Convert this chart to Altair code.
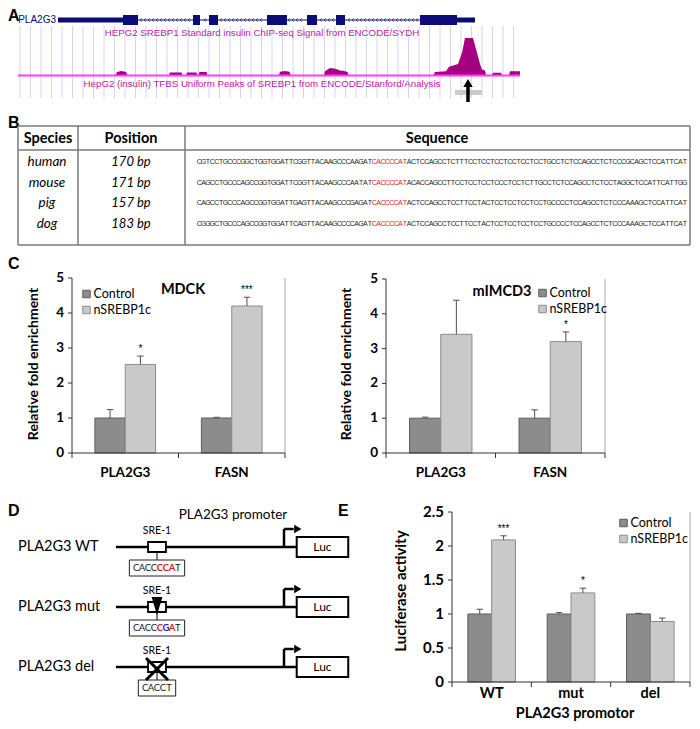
import altair as alt
import numpy as np
import pandas as pd

OFF = 8
W, H = 684, 713


def V(p):
    return p - OFF


SANS = "Liberation Sans"
NARROW = "Liberation Sans Narrow, Liberation Sans"
CAL = "Lato"
NAVY = "#0c0c78"
MAG_TEXT = "#c41aa6"
MAG_AREA = "#a5007f"
MAG_LINE = "#ff3cff"
GRID = "#d4d4f4"
CTRL = "#8c8c8c"
CTRL_EDGE = "#5c5c5c"
NSREBP = "#c9c9c9"
NSREBP_EDGE = "#8c8c8c"
RED = "#e3201b"
BLUE = "#2323d6"

# ---------------- data ----------------
# Panel A: UCSC view, positions in kb across the browser window
gene_label = "PLA2G3"
gene_span = [0.76, 9.10]
utr_start = [0.76, 8.74]
utr_end = [2.06, 9.10]
exon_start = [2.06, 3.46, 3.78, 4.94, 5.74, 6.32, 8.00]
exon_end = [2.36, 3.60, 3.96, 5.34, 5.94, 6.50, 8.74]
signal_kb = [0.00, 1.91, 1.94, 2.03, 2.12, 2.15, 2.98, 3.00, 3.23, 3.25, 3.32, 3.34,
             3.53, 3.55, 3.57, 3.59, 3.73, 3.75, 5.18, 5.20, 5.30, 5.39, 5.41, 6.08,
             6.10, 6.20, 6.31, 6.40, 6.48, 6.55, 6.57, 8.27, 8.30, 8.52, 8.58, 8.76,
             8.84, 8.90, 9.06, 9.12, 9.20, 9.24, 9.30, 9.32, 9.44, 9.46, 9.62, 9.64,
             9.78, 9.80, 10.0]
signal_val = [0, 0, 8, 11, 8, 0, 0, 7, 7, 0, 0, 7,
              7, 0, 0, 8, 8, 0, 0, 9, 11, 9, 0, 0,
              10, 19, 17, 12, 11, 8, 0, 0, 8, 10, 22, 30,
              60, 100, 100, 70, 30, 15, 12, 0, 0, 6, 6, 0,
              0, 10, 10]
peak_region = [8.70, 9.24]
peak_center = 8.96
track1_title = "HEPG2 SREBP1 Standard insulin ChIP-seq Signal from ENCODE/SYDH"
track2_title = "HepG2 (insulin) TFBS Uniform Peaks of SREBP1 from ENCODE/Stanford/Analysis"

# Panel B
species = ["human", "mouse", "pig", "dog"]
positions = ["170 bp", "171 bp", "157 bp", "183 bp"]
seq_left = ["CGTCCTGCCCGGCTGGTGGATTCGGTTACAAGCCCAAGAT",
            "CAGCCTGCCCAGCCGGTGGATTCGGTTACAAGCCCAATAT",
            "CAGCCTGCCCAGCCGGTGGATTGAGTTACAAGCCCGAGAT",
            "CGGGCTGCCCAGCCGGTGGATTCAGTTACAAGCCCCAGAT"]
motif = "CACCCCAT"
seq_right = ["ACTCCAGCCTCTTTCCTCCTCCTCCTCCTCCTGCCTCTCCAGCCTCTCCCGCAGCTCCATTCAT",
             "ACACCAGCCTTCCTCCTCCTCCCTCCTCTTGCCTCTCCAGCCTCTCCTAGGCTCCATTCATTGG",
             "ACTCCAGCCTCCTTCCTACTCCTCCTCCTCCTGCCCCTCCAGCCTCTCCCAAAGCTCCATTCAT",
             "ACTCCAGCCTCCTTCCTACTCCTCCTCCTCCTGCCCCTCCAGCCTCTCCCAAAGCTCCATTCAT"]

# Panel C
genes = ["PLA2G3", "FASN"]
series = ["Control", "nSREBP1c"]
mdck_mean = [1.0, 2.53, 1.0, 4.20]
mdck_err = [0.24, 0.24, 0.02, 0.25]
mdck_sig = ["", "*", "", "***"]
imcd_mean = [1.0, 3.41, 1.0, 3.20]
imcd_err = [0.03, 0.98, 0.24, 0.28]
imcd_sig = ["", "", "", "*"]

# Panel D (positions in bp relative to the transcription start)
constructs = ["PLA2G3 WT", "PLA2G3 mut", "PLA2G3 del"]
promoter_start_bp = -225
sre_bp = -170
luc_bp = [17, 86]
site_seq = ["CACCCCAT", "CACCCGAT", "CACCT"]
site_class = ["nnnncccn", "nnnncmcn", "nnnnn"]

# Panel E
promoters = ["WT", "mut", "del"]
luc_mean = [1.0, 2.09, 1.0, 1.31, 1.0, 0.89]
luc_err = [0.07, 0.06, 0.02, 0.07, 0.01, 0.05]
luc_sig = ["", "***", "", "*", "", ""]

# ---------------- helpers ----------------
DUMMY = pd.DataFrame({"d": [0]})
layers = []


def txt(text, x, y, size=12, weight="normal", font=CAL, color="black", align="center",
        baseline="middle", angle=None, style="normal"):
    kw = dict(fontSize=size, fontWeight=weight, font=font, color=color, align=align,
              baseline=baseline, fontStyle=style)
    if angle is not None:
        kw["angle"] = angle
    return alt.Chart(DUMMY).mark_text(**kw).encode(
        x=alt.value(V(x)), y=alt.value(V(y)), text=alt.value(text))


def seg(x1, y1, x2, y2, color="black", width=1.0):
    return alt.Chart(DUMMY).mark_rule(color=color, strokeWidth=width).encode(
        x=alt.value(V(x1)), y=alt.value(V(y1)), x2=alt.value(V(x2)), y2=alt.value(V(y2)))


# ---------------- Panel A ----------------
xa = alt.Scale(domain=[0, 10], range=[V(20), V(520)], nice=False, zero=False)
ya = alt.Scale(domain=[0, 100], range=[V(75), V(38)], nice=False)
layers.append(txt("A", 8, 8, size=16, weight="bold", font=NARROW, align="left", baseline="top"))
grid_df = pd.DataFrame({"kb": np.arange(0.0, 10.01, 0.21)})
layers.append(alt.Chart(grid_df).mark_rule(color=GRID, strokeWidth=1).encode(
    x=alt.X("kb:Q", scale=xa, axis=None), y=alt.value(V(26)), y2=alt.value(V(98))))
chev = [p for p in np.arange(2.42, 8.0, 0.08)
        if not any(s - 0.04 <= p <= e + 0.04 for s, e in zip(exon_start, exon_end))]
layers.append(alt.Chart(pd.DataFrame({"kb": chev})).mark_point(
    shape="M0.5,-1L-0.5,0L0.5,1", size=12, color=NAVY, strokeWidth=0.7, filled=False, opacity=1).encode(
    x=alt.X("kb:Q", scale=xa, axis=None), y=alt.value(V(20))))
layers.append(alt.Chart(pd.DataFrame({"s": [gene_span[0]], "e": [gene_span[1]]})).mark_rule(
    color=NAVY, strokeWidth=1).encode(
    x=alt.X("s:Q", scale=xa, axis=None), x2="e:Q", y=alt.value(V(20))))
layers.append(alt.Chart(pd.DataFrame({"s": utr_start, "e": utr_end})).mark_rect(color=NAVY).encode(
    x=alt.X("s:Q", scale=xa, axis=None), x2="e:Q", y=alt.value(V(17.5)), y2=alt.value(V(22.5))))
layers.append(alt.Chart(pd.DataFrame({"s": exon_start, "e": exon_end})).mark_rect(color=NAVY).encode(
    x=alt.X("s:Q", scale=xa, axis=None), x2="e:Q", y=alt.value(V(15)), y2=alt.value(V(25))))
layers.append(txt(gene_label, 56, 20, size=10, font=SANS, color=NAVY, align="right"))
layers.append(txt(track1_title, 262, 33, size=9.7, font=SANS, color=MAG_TEXT))
sig_df = pd.DataFrame({"kb": signal_kb, "val": signal_val})
layers.append(alt.Chart(sig_df).mark_area(color=MAG_AREA, interpolate="linear").encode(
    x=alt.X("kb:Q", scale=xa, axis=None), y=alt.Y("val:Q", scale=ya, axis=None)))
layers.append(alt.Chart(pd.DataFrame({"s": [-0.04], "e": [10.0]})).mark_rule(
    color=MAG_LINE, strokeWidth=2).encode(
    x=alt.X("s:Q", scale=xa, axis=None), x2="e:Q", y=alt.value(V(75.5))))
layers.append(txt(track2_title, 262, 84, size=9.7, font=SANS, color=MAG_TEXT))
layers.append(alt.Chart(pd.DataFrame({"s": [peak_region[0]], "e": [peak_region[1]]})).mark_rect(
    color="#cacaca").encode(
    x=alt.X("s:Q", scale=xa, axis=None), x2="e:Q", y=alt.value(V(90)), y2=alt.value(V(95))))
pk = pd.DataFrame({"kb": [peak_center]})
layers.append(alt.Chart(pk).mark_rule(color="black", strokeWidth=3.5).encode(
    x=alt.X("kb:Q", scale=xa, axis=None), y=alt.value(V(86)), y2=alt.value(V(102))))
layers.append(alt.Chart(pk).mark_point(shape="triangle-up", size=90, filled=True, color="black",
                                       opacity=1).encode(
    x=alt.X("kb:Q", scale=xa, axis=None), y=alt.value(V(83))))

# ---------------- Panel B ----------------
layers.append(txt("B", 8, 123, size=16, weight="bold", font=NARROW, align="left"))
TB_L, TB_R, TB_T, TB_B = 18, 690, 126, 245
S1, S2, HL = 78, 185, 150
TCOL = "#7a7a7a"
for (x1, y1, x2, y2) in [(TB_L, TB_T, TB_R, TB_T), (TB_L, HL, TB_R, HL), (TB_L, TB_B, TB_R, TB_B),
                         (TB_L, TB_T, TB_L, TB_B), (TB_R, TB_T, TB_R, TB_B),
                         (S1, TB_T, S1, TB_B), (S2, TB_T, S2, TB_B)]:
    layers.append(seg(x1, y1, x2, y2, color=TCOL, width=1.5))
layers.append(txt("Species", 48, 139, size=14.5, weight="bold"))
layers.append(txt("Position", 131, 139, size=14.5, weight="bold"))
layers.append(txt("Sequence", 437, 139, size=14.5, weight="bold"))
yb = alt.Scale(type="point", domain=species, range=[V(162), V(224)], padding=0)
tb = pd.DataFrame({"species": species, "position": positions})
layers.append(alt.Chart(tb).mark_text(font=CAL, fontSize=13.5, fontStyle="italic").encode(
    x=alt.value(V(47)), y=alt.Y("species:N", scale=yb, axis=None), text="species:N"))
layers.append(alt.Chart(tb).mark_text(font=CAL, fontSize=13, fontStyle="italic").encode(
    x=alt.value(V(131)), y=alt.Y("species:N", scale=yb, axis=None), text="position:N"))
rows = []
for sp, l, r in zip(species, seq_left, seq_right):
    full = l + motif + r
    for i, ch in enumerate(full):
        part = "motif" if len(l) <= i < len(l) + len(motif) else "flank"
        rows.append({"species": sp, "idx": i + 0.5, "ch": ch, "part": part})
chars = pd.DataFrame(rows)
nchar = max(len(l) + len(motif) + len(r) for l, r in zip(seq_left, seq_right))
xb = alt.Scale(domain=[0, nchar], range=[V(197), V(687)], nice=False, zero=False)
layers.append(alt.Chart(chars).mark_text(font=SANS, fontSize=7).encode(
    x=alt.X("idx:Q", scale=xb, axis=None), y=alt.Y("species:N", scale=yb, axis=None),
    text="ch:N",
    color=alt.Color("part:N", scale=alt.Scale(domain=["flank", "motif"], range=["#1e1e1e", RED]),
                    legend=None)))


# ---------------- bar panels ----------------
def bar_panel(cats, means, errs, sigs, x0, x1, ytop, ybot, ymax, ticks, tick_labels, pin,
              tick_size, xlab_y, xlab_size, legend_x, legend_y, ytitle, ytitle_x, ytitle_y,
              ytitle_size, title=None, title_xy=None):
    recs = []
    for ci, c in enumerate(cats):
        for si, s in enumerate(series):
            k = ci * len(series) + si
            recs.append({"cat": c, "series": s, "mean": means[k], "err": errs[k],
                         "hi": means[k] + errs[k], "sig": sigs[k]})
    df = pd.DataFrame(recs)
    xs = alt.Scale(type="band", domain=cats, range=[V(x0), V(x1)], paddingInner=pin,
                   paddingOuter=pin / 2)
    ys = alt.Scale(domain=[0, ymax], range=[V(ybot), V(ytop)], nice=False, zero=True)
    os_ = alt.Scale(type="band", domain=series, paddingInner=0, paddingOuter=0)
    X = alt.X("cat:N", scale=xs, axis=None)
    XO = alt.XOffset("series:N", scale=os_)
    base = alt.Chart(df)
    out = []
    out.append(seg(x1, ytop, x1, ybot, color="#a8a8a8", width=1))
    out.append(base.mark_bar(strokeWidth=1).encode(
        x=X, xOffset=XO, y=alt.Y("mean:Q", scale=ys, axis=None),
        fill=alt.Fill("series:N", scale=alt.Scale(domain=series, range=[CTRL, NSREBP]), legend=None),
        stroke=alt.Stroke("series:N", scale=alt.Scale(domain=series, range=[CTRL_EDGE, NSREBP_EDGE]),
                          legend=None)))
    out.append(base.mark_rule(color="#4d4d4d", strokeWidth=1).encode(
        x=X, xOffset=XO, y=alt.Y("mean:Q", scale=ys, axis=None), y2="hi:Q"))
    out.append(base.mark_point(shape="M-1,0L1,0", size=42, color="#4d4d4d", strokeWidth=1,
                               filled=False, opacity=1).encode(
        x=X, xOffset=XO, y=alt.Y("hi:Q", scale=ys, axis=None)))
    out.append(base.mark_text(font=SANS, fontSize=10, baseline="bottom", dy=-2).encode(
        x=X, xOffset=XO, y=alt.Y("hi:Q", scale=ys, axis=None), text="sig:N"))
    out.append(seg(x0, ytop, x0, ybot, color="#333333", width=1))
    out.append(seg(x0, ybot, x1, ybot, color="#333333", width=1))
    tdf = pd.DataFrame({"v": ticks, "lab": tick_labels})
    out.append(alt.Chart(tdf).mark_rule(color="#333333", strokeWidth=1).encode(
        x=alt.value(V(x0 - 4)), x2=alt.value(V(x0)), y=alt.Y("v:Q", scale=ys, axis=None)))
    out.append(alt.Chart(tdf).mark_text(font=CAL, fontSize=tick_size, fontWeight="bold",
                                        align="right").encode(
        x=alt.value(V(x0 - 8)), y=alt.Y("v:Q", scale=ys, axis=None), text="lab:N"))
    n = len(cats)
    for k in range(n + 1):
        xx = x0 + k * (x1 - x0) / n
        out.append(seg(xx, ybot, xx, ybot + 5, color="#333333", width=1))
    cdf = pd.DataFrame({"cat": cats})
    out.append(alt.Chart(cdf).mark_text(font=CAL, fontSize=xlab_size, fontWeight="bold").encode(
        x=X, y=alt.value(V(xlab_y)), text="cat:N"))
    ly = alt.Scale(type="point", domain=series, range=[V(legend_y[0]), V(legend_y[1])], padding=0)
    ldf = pd.DataFrame({"series": series})
    out.append(alt.Chart(ldf).mark_point(shape="square", size=56, filled=True, strokeWidth=1,
                                         opacity=1).encode(
        x=alt.value(V(legend_x)), y=alt.Y("series:N", scale=ly, axis=None),
        fill=alt.Fill("series:N", scale=alt.Scale(domain=series, range=[CTRL, NSREBP]), legend=None),
        stroke=alt.Stroke("series:N", scale=alt.Scale(domain=series, range=[CTRL_EDGE, NSREBP_EDGE]),
                          legend=None)))
    out.append(alt.Chart(ldf).mark_text(font=CAL, fontSize=12.5, align="left").encode(
        x=alt.value(V(legend_x + 7)), y=alt.Y("series:N", scale=ly, axis=None), text="series:N"))
    out.append(txt(ytitle, ytitle_x, ytitle_y, size=ytitle_size, weight="bold", angle=270))
    if title:
        out.append(txt(title, title_xy[0], title_xy[1], size=14.5, weight="bold"))
    return out


# ---------------- Panel C ----------------
layers.append(txt("C", 8, 264, size=16, weight="bold", font=NARROW, align="left"))
cticks = [0, 1, 2, 3, 4, 5]
clabs = [str(t) for t in cticks]
layers += bar_panel(genes, mdck_mean, mdck_err, mdck_sig, 72, 285, 278, 453, 5, cticks, clabs, 0.43,
                    13.5, 473, 13.5, 86.5, (294, 310), "Relative fold enrichment", 34, 364, 14,
                    title="MDCK", title_xy=(183, 290))
layers += bar_panel(genes, imcd_mean, imcd_err, imcd_sig, 386, 605, 279, 453, 5, cticks, clabs, 0.43,
                    13.5, 473, 13.5, 542.5, (293, 309), "Relative fold enrichment", 347, 364, 14,
                    title="mIMCD3", title_xy=(502, 292))

# ---------------- Panel D ----------------
layers.append(txt("D", 8, 511, size=16, weight="bold", font=NARROW, align="left"))
layers.append(txt("PLA2G3 promoter", 233, 515, size=13.5))
xd = alt.Scale(domain=[-170, 0], range=[V(157), V(284)], nice=False, zero=False)
yd = alt.Scale(type="point", domain=constructs, range=[V(547), V(667)], padding=0)
PITCH = 8.0
ddf = pd.DataFrame({
    "construct": constructs,
    "start": [promoter_start_bp] * 3,
    "sre": [sre_bp] * 3,
    "sre_l": [sre_bp - 12] * 3,
    "sre_r": [sre_bp + 12] * 3,
    "tss": [0] * 3,
    "arrow_end": [13] * 3,
    "arrow_head": [18.5] * 3,
    "luc_s": [luc_bp[0]] * 3,
    "luc_e": [luc_bp[1]] * 3,
    "luc_m": [(luc_bp[0] + luc_bp[1]) / 2] * 3,
    "box_l": [sre_bp - (len(s) * PITCH + 10) / 2 for s in site_seq],
    "box_r": [sre_bp + (len(s) * PITCH + 10) / 2 for s in site_seq],
})
XD = lambda f: alt.X(f, scale=xd, axis=None)
YD = alt.Y("construct:N", scale=yd, axis=None)
bd = alt.Chart(ddf)
layers.append(bd.mark_text(font=CAL, fontSize=14.5, align="left").encode(
    x=alt.value(V(18)), y=YD, text="construct:N"))
layers.append(bd.mark_rule(color="black", strokeWidth=2.5).encode(x=XD("start:Q"), x2="luc_s:Q", y=YD))
layers.append(bd.mark_point(shape="M0,-1L0,1", size=324, color="black", strokeWidth=2.5, yOffset=-9,
                            filled=False, opacity=1).encode(x=XD("tss:Q"), y=YD))
layers.append(bd.mark_rule(color="black", strokeWidth=2.5, yOffset=-18).encode(
    x=XD("tss:Q"), x2="arrow_end:Q", y=YD))
layers.append(bd.mark_point(shape="triangle-right", size=70, color="black", filled=True, yOffset=-18,
                            opacity=1).encode(x=XD("arrow_head:Q"), y=YD))
layers.append(bd.mark_bar(size=20, fill="white", stroke="black", strokeWidth=2).encode(
    x=XD("luc_s:Q"), x2="luc_e:Q", y=YD))
layers.append(bd.mark_text(font=CAL, fontSize=12).encode(x=XD("luc_m:Q"), y=YD, text=alt.value("Luc")))
layers.append(bd.mark_point(shape="M0,-1L0,1", size=100, color="black", strokeWidth=1, yOffset=9,
                            filled=False, opacity=1).encode(x=XD("sre:Q"), y=YD))
layers.append(bd.mark_bar(size=10, fill="white", stroke="black", strokeWidth=1.8).encode(
    x=XD("sre_l:Q"), x2="sre_r:Q", y=YD))
layers.append(bd.mark_bar(size=16, fill="white", stroke="#222222", strokeWidth=1, yOffset=21).encode(
    x=XD("box_l:Q"), x2="box_r:Q", y=YD))
layers.append(bd.mark_text(font=CAL, fontSize=10.5, yOffset=-16).encode(
    x=XD("sre:Q"), y=YD, text=alt.value("SRE-1")))
layers.append(bd.transform_filter(alt.datum.construct == "PLA2G3 mut").mark_point(
    shape="M-0.6,-1L0.6,-1L0,1Z", size=324, filled=True, color="black", yOffset=-1, opacity=1).encode(
    x=XD("sre:Q"), y=YD))
layers.append(bd.transform_filter(alt.datum.construct == "PLA2G3 del").mark_point(
    shape="M-1,-1L1,1M1,-1L-1,1", size=484, filled=False, color="black", strokeWidth=3, yOffset=2,
    opacity=1).encode(x=XD("sre:Q"), y=YD))
srows = []
for c, s, k in zip(constructs, site_seq, site_class):
    n = len(s)
    for i, (ch, cl) in enumerate(zip(s, k)):
        srows.append({"construct": c, "cx": sre_bp + (i - (n - 1) / 2) * PITCH, "ch": ch, "cl": cl})
sdf = pd.DataFrame(srows)
sclr = alt.Scale(domain=["n", "c", "m"], range=["#1a1a1a", RED, BLUE])
layers.append(alt.Chart(sdf).transform_filter(alt.datum.cl == "n").mark_text(
    font=CAL, fontSize=9.5, yOffset=21).encode(
    x=XD("cx:Q"), y=YD, text="ch:N", color=alt.Color("cl:N", scale=sclr, legend=None)))
layers.append(alt.Chart(sdf).transform_filter(alt.datum.cl != "n").mark_text(
    font=CAL, fontSize=9.5, fontWeight="bold", yOffset=21).encode(
    x=XD("cx:Q"), y=YD, text="ch:N", color=alt.Color("cl:N", scale=sclr, legend=None)))

# ---------------- Panel E ----------------
layers.append(txt("E", 338, 511, size=16, weight="bold", font=NARROW, align="left"))
eticks = [0, 0.5, 1, 1.5, 2, 2.5]
elabs = ["0", "0.5", "1", "1.5", "2", "2.5"]
layers += bar_panel(promoters, luc_mean, luc_err, luc_sig, 452, 690, 512, 682, 2.5, eticks, elabs, 0.4,
                    15, 694, 14.5, 623.5, (523, 539), "Luciferase activity", 401, 591, 15)
layers.append(txt("PLA2G3 promotor", 575, 718, size=14.5, weight="bold", baseline="alphabetic"))

chart = alt.layer(*layers).resolve_scale(
    x="independent", y="independent", xOffset="independent", color="independent",
    fill="independent", stroke="independent"
).properties(
    width=W, height=H, padding=0, autosize=alt.AutoSizeParams(type="none")
).configure_view(stroke="transparent")

chart.save("out.html", embed_options={"renderer": "svg", "actions": False})
